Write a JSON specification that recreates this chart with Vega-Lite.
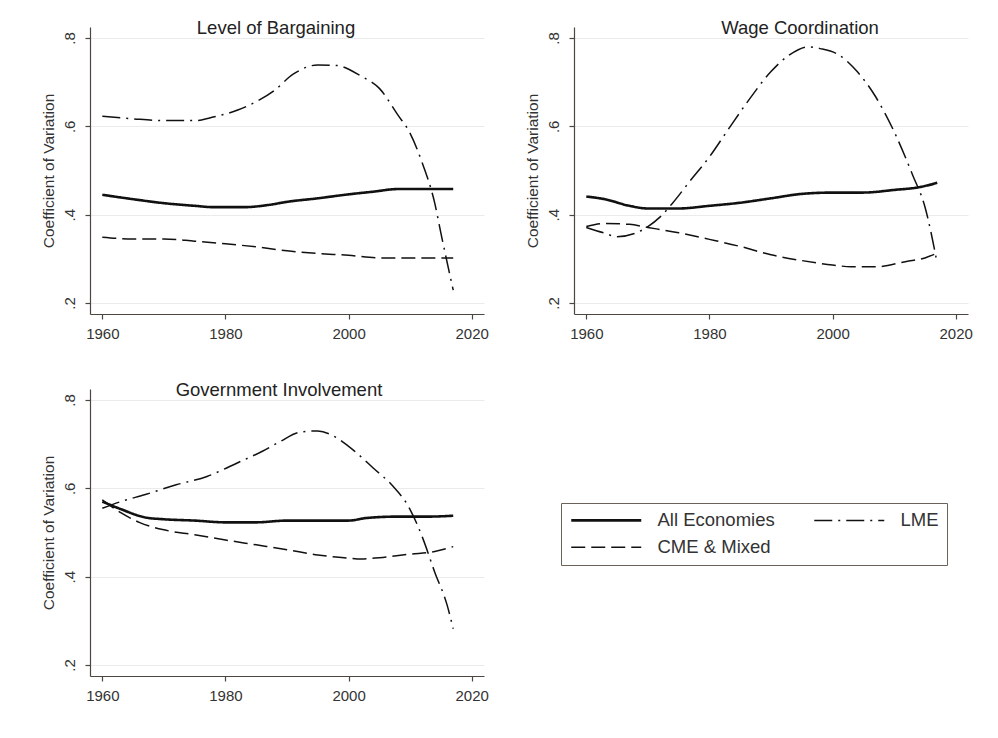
{
  "$schema": "https://vega.github.io/schema/vega-lite/v6.json",
  "background": "white",
  "padding": {"left": 41, "top": 18, "right": 5, "bottom": 5},
  "data": {"values": [
    {"panel": "Level of Bargaining", "series": "All Economies", "year": 1960, "cv": 0.445},
    {"panel": "Level of Bargaining", "series": "All Economies", "year": 1965, "cv": 0.435},
    {"panel": "Level of Bargaining", "series": "All Economies", "year": 1970, "cv": 0.426},
    {"panel": "Level of Bargaining", "series": "All Economies", "year": 1975, "cv": 0.42},
    {"panel": "Level of Bargaining", "series": "All Economies", "year": 1978, "cv": 0.417},
    {"panel": "Level of Bargaining", "series": "All Economies", "year": 1983, "cv": 0.417},
    {"panel": "Level of Bargaining", "series": "All Economies", "year": 1987, "cv": 0.422},
    {"panel": "Level of Bargaining", "series": "All Economies", "year": 1990, "cv": 0.429},
    {"panel": "Level of Bargaining", "series": "All Economies", "year": 1995, "cv": 0.437},
    {"panel": "Level of Bargaining", "series": "All Economies", "year": 2000, "cv": 0.446},
    {"panel": "Level of Bargaining", "series": "All Economies", "year": 2004, "cv": 0.452},
    {"panel": "Level of Bargaining", "series": "All Economies", "year": 2008, "cv": 0.458},
    {"panel": "Level of Bargaining", "series": "All Economies", "year": 2012, "cv": 0.458},
    {"panel": "Level of Bargaining", "series": "All Economies", "year": 2017, "cv": 0.458},
    {"panel": "Level of Bargaining", "series": "CME & Mixed", "year": 1960, "cv": 0.349},
    {"panel": "Level of Bargaining", "series": "CME & Mixed", "year": 1965, "cv": 0.345},
    {"panel": "Level of Bargaining", "series": "CME & Mixed", "year": 1970, "cv": 0.345},
    {"panel": "Level of Bargaining", "series": "CME & Mixed", "year": 1975, "cv": 0.34},
    {"panel": "Level of Bargaining", "series": "CME & Mixed", "year": 1980, "cv": 0.334},
    {"panel": "Level of Bargaining", "series": "CME & Mixed", "year": 1985, "cv": 0.327},
    {"panel": "Level of Bargaining", "series": "CME & Mixed", "year": 1990, "cv": 0.318},
    {"panel": "Level of Bargaining", "series": "CME & Mixed", "year": 1995, "cv": 0.312},
    {"panel": "Level of Bargaining", "series": "CME & Mixed", "year": 2000, "cv": 0.308},
    {"panel": "Level of Bargaining", "series": "CME & Mixed", "year": 2005, "cv": 0.302},
    {"panel": "Level of Bargaining", "series": "CME & Mixed", "year": 2010, "cv": 0.302},
    {"panel": "Level of Bargaining", "series": "CME & Mixed", "year": 2017, "cv": 0.302},
    {"panel": "Level of Bargaining", "series": "LME", "year": 1960, "cv": 0.623},
    {"panel": "Level of Bargaining", "series": "LME", "year": 1965, "cv": 0.617},
    {"panel": "Level of Bargaining", "series": "LME", "year": 1970, "cv": 0.613},
    {"panel": "Level of Bargaining", "series": "LME", "year": 1975, "cv": 0.613},
    {"panel": "Level of Bargaining", "series": "LME", "year": 1978, "cv": 0.621},
    {"panel": "Level of Bargaining", "series": "LME", "year": 1982, "cv": 0.637},
    {"panel": "Level of Bargaining", "series": "LME", "year": 1985, "cv": 0.656},
    {"panel": "Level of Bargaining", "series": "LME", "year": 1988, "cv": 0.682},
    {"panel": "Level of Bargaining", "series": "LME", "year": 1991, "cv": 0.718},
    {"panel": "Level of Bargaining", "series": "LME", "year": 1995, "cv": 0.739},
    {"panel": "Level of Bargaining", "series": "LME", "year": 1998, "cv": 0.738},
    {"panel": "Level of Bargaining", "series": "LME", "year": 2002, "cv": 0.714},
    {"panel": "Level of Bargaining", "series": "LME", "year": 2005, "cv": 0.686},
    {"panel": "Level of Bargaining", "series": "LME", "year": 2008, "cv": 0.626},
    {"panel": "Level of Bargaining", "series": "LME", "year": 2010, "cv": 0.584},
    {"panel": "Level of Bargaining", "series": "LME", "year": 2012, "cv": 0.516},
    {"panel": "Level of Bargaining", "series": "LME", "year": 2014, "cv": 0.426},
    {"panel": "Level of Bargaining", "series": "LME", "year": 2015, "cv": 0.358},
    {"panel": "Level of Bargaining", "series": "LME", "year": 2017, "cv": 0.229},

    {"panel": "Wage Coordination", "series": "All Economies", "year": 1960, "cv": 0.441},
    {"panel": "Wage Coordination", "series": "All Economies", "year": 1963, "cv": 0.435},
    {"panel": "Wage Coordination", "series": "All Economies", "year": 1967, "cv": 0.42},
    {"panel": "Wage Coordination", "series": "All Economies", "year": 1970, "cv": 0.414},
    {"panel": "Wage Coordination", "series": "All Economies", "year": 1975, "cv": 0.414},
    {"panel": "Wage Coordination", "series": "All Economies", "year": 1980, "cv": 0.42},
    {"panel": "Wage Coordination", "series": "All Economies", "year": 1985, "cv": 0.427},
    {"panel": "Wage Coordination", "series": "All Economies", "year": 1990, "cv": 0.437},
    {"panel": "Wage Coordination", "series": "All Economies", "year": 1995, "cv": 0.447},
    {"panel": "Wage Coordination", "series": "All Economies", "year": 2000, "cv": 0.45},
    {"panel": "Wage Coordination", "series": "All Economies", "year": 2005, "cv": 0.45},
    {"panel": "Wage Coordination", "series": "All Economies", "year": 2010, "cv": 0.456},
    {"panel": "Wage Coordination", "series": "All Economies", "year": 2014, "cv": 0.462},
    {"panel": "Wage Coordination", "series": "All Economies", "year": 2017, "cv": 0.472},
    {"panel": "Wage Coordination", "series": "CME & Mixed", "year": 1960, "cv": 0.373},
    {"panel": "Wage Coordination", "series": "CME & Mixed", "year": 1963, "cv": 0.38},
    {"panel": "Wage Coordination", "series": "CME & Mixed", "year": 1967, "cv": 0.378},
    {"panel": "Wage Coordination", "series": "CME & Mixed", "year": 1970, "cv": 0.371},
    {"panel": "Wage Coordination", "series": "CME & Mixed", "year": 1975, "cv": 0.359},
    {"panel": "Wage Coordination", "series": "CME & Mixed", "year": 1980, "cv": 0.344},
    {"panel": "Wage Coordination", "series": "CME & Mixed", "year": 1985, "cv": 0.328},
    {"panel": "Wage Coordination", "series": "CME & Mixed", "year": 1990, "cv": 0.309},
    {"panel": "Wage Coordination", "series": "CME & Mixed", "year": 1995, "cv": 0.296},
    {"panel": "Wage Coordination", "series": "CME & Mixed", "year": 2000, "cv": 0.286},
    {"panel": "Wage Coordination", "series": "CME & Mixed", "year": 2003, "cv": 0.282},
    {"panel": "Wage Coordination", "series": "CME & Mixed", "year": 2007, "cv": 0.282},
    {"panel": "Wage Coordination", "series": "CME & Mixed", "year": 2012, "cv": 0.294},
    {"panel": "Wage Coordination", "series": "CME & Mixed", "year": 2015, "cv": 0.302},
    {"panel": "Wage Coordination", "series": "CME & Mixed", "year": 2017, "cv": 0.313},
    {"panel": "Wage Coordination", "series": "LME", "year": 1960, "cv": 0.371},
    {"panel": "Wage Coordination", "series": "LME", "year": 1963, "cv": 0.358},
    {"panel": "Wage Coordination", "series": "LME", "year": 1965, "cv": 0.35},
    {"panel": "Wage Coordination", "series": "LME", "year": 1968, "cv": 0.358},
    {"panel": "Wage Coordination", "series": "LME", "year": 1970, "cv": 0.373},
    {"panel": "Wage Coordination", "series": "LME", "year": 1972, "cv": 0.395},
    {"panel": "Wage Coordination", "series": "LME", "year": 1974, "cv": 0.426},
    {"panel": "Wage Coordination", "series": "LME", "year": 1977, "cv": 0.479},
    {"panel": "Wage Coordination", "series": "LME", "year": 1980, "cv": 0.531},
    {"panel": "Wage Coordination", "series": "LME", "year": 1983, "cv": 0.592},
    {"panel": "Wage Coordination", "series": "LME", "year": 1986, "cv": 0.652},
    {"panel": "Wage Coordination", "series": "LME", "year": 1990, "cv": 0.724},
    {"panel": "Wage Coordination", "series": "LME", "year": 1993, "cv": 0.762},
    {"panel": "Wage Coordination", "series": "LME", "year": 1996, "cv": 0.78},
    {"panel": "Wage Coordination", "series": "LME", "year": 1998, "cv": 0.776},
    {"panel": "Wage Coordination", "series": "LME", "year": 2001, "cv": 0.762},
    {"panel": "Wage Coordination", "series": "LME", "year": 2004, "cv": 0.724},
    {"panel": "Wage Coordination", "series": "LME", "year": 2007, "cv": 0.667},
    {"panel": "Wage Coordination", "series": "LME", "year": 2010, "cv": 0.588},
    {"panel": "Wage Coordination", "series": "LME", "year": 2013, "cv": 0.49},
    {"panel": "Wage Coordination", "series": "LME", "year": 2015, "cv": 0.418},
    {"panel": "Wage Coordination", "series": "LME", "year": 2017, "cv": 0.29},

    {"panel": "Government Involvement", "series": "All Economies", "year": 1960, "cv": 0.57},
    {"panel": "Government Involvement", "series": "All Economies", "year": 1963, "cv": 0.553},
    {"panel": "Government Involvement", "series": "All Economies", "year": 1967, "cv": 0.534},
    {"panel": "Government Involvement", "series": "All Economies", "year": 1970, "cv": 0.53},
    {"panel": "Government Involvement", "series": "All Economies", "year": 1975, "cv": 0.527},
    {"panel": "Government Involvement", "series": "All Economies", "year": 1980, "cv": 0.523},
    {"panel": "Government Involvement", "series": "All Economies", "year": 1985, "cv": 0.523},
    {"panel": "Government Involvement", "series": "All Economies", "year": 1990, "cv": 0.527},
    {"panel": "Government Involvement", "series": "All Economies", "year": 2000, "cv": 0.527},
    {"panel": "Government Involvement", "series": "All Economies", "year": 2003, "cv": 0.533},
    {"panel": "Government Involvement", "series": "All Economies", "year": 2008, "cv": 0.536},
    {"panel": "Government Involvement", "series": "All Economies", "year": 2013, "cv": 0.536},
    {"panel": "Government Involvement", "series": "All Economies", "year": 2017, "cv": 0.538},
    {"panel": "Government Involvement", "series": "CME & Mixed", "year": 1960, "cv": 0.574},
    {"panel": "Government Involvement", "series": "CME & Mixed", "year": 1963, "cv": 0.545},
    {"panel": "Government Involvement", "series": "CME & Mixed", "year": 1966, "cv": 0.523},
    {"panel": "Government Involvement", "series": "CME & Mixed", "year": 1970, "cv": 0.506},
    {"panel": "Government Involvement", "series": "CME & Mixed", "year": 1975, "cv": 0.495},
    {"panel": "Government Involvement", "series": "CME & Mixed", "year": 1980, "cv": 0.483},
    {"panel": "Government Involvement", "series": "CME & Mixed", "year": 1985, "cv": 0.472},
    {"panel": "Government Involvement", "series": "CME & Mixed", "year": 1990, "cv": 0.461},
    {"panel": "Government Involvement", "series": "CME & Mixed", "year": 1995, "cv": 0.449},
    {"panel": "Government Involvement", "series": "CME & Mixed", "year": 2000, "cv": 0.442},
    {"panel": "Government Involvement", "series": "CME & Mixed", "year": 2002, "cv": 0.44},
    {"panel": "Government Involvement", "series": "CME & Mixed", "year": 2005, "cv": 0.443},
    {"panel": "Government Involvement", "series": "CME & Mixed", "year": 2010, "cv": 0.451},
    {"panel": "Government Involvement", "series": "CME & Mixed", "year": 2014, "cv": 0.457},
    {"panel": "Government Involvement", "series": "CME & Mixed", "year": 2017, "cv": 0.468},
    {"panel": "Government Involvement", "series": "LME", "year": 1960, "cv": 0.555},
    {"panel": "Government Involvement", "series": "LME", "year": 1963, "cv": 0.57},
    {"panel": "Government Involvement", "series": "LME", "year": 1967, "cv": 0.586},
    {"panel": "Government Involvement", "series": "LME", "year": 1972, "cv": 0.608},
    {"panel": "Government Involvement", "series": "LME", "year": 1977, "cv": 0.627},
    {"panel": "Government Involvement", "series": "LME", "year": 1982, "cv": 0.658},
    {"panel": "Government Involvement", "series": "LME", "year": 1986, "cv": 0.684},
    {"panel": "Government Involvement", "series": "LME", "year": 1989, "cv": 0.707},
    {"panel": "Government Involvement", "series": "LME", "year": 1992, "cv": 0.727},
    {"panel": "Government Involvement", "series": "LME", "year": 1995, "cv": 0.73},
    {"panel": "Government Involvement", "series": "LME", "year": 1998, "cv": 0.715},
    {"panel": "Government Involvement", "series": "LME", "year": 2001, "cv": 0.684},
    {"panel": "Government Involvement", "series": "LME", "year": 2004, "cv": 0.646},
    {"panel": "Government Involvement", "series": "LME", "year": 2007, "cv": 0.608},
    {"panel": "Government Involvement", "series": "LME", "year": 2010, "cv": 0.552},
    {"panel": "Government Involvement", "series": "LME", "year": 2012, "cv": 0.489},
    {"panel": "Government Involvement", "series": "LME", "year": 2014, "cv": 0.41},
    {"panel": "Government Involvement", "series": "LME", "year": 2016, "cv": 0.336},
    {"panel": "Government Involvement", "series": "LME", "year": 2017, "cv": 0.282}
  ]},
  "columns": 2,
  "spacing": {"row": 75, "column": 90},
  "bounds": "flush",
  "resolve": {"scale": {"strokeDash": "independent"}, "legend": {"strokeDash": "independent"}},
  "concat": [
    {
      "title": {"text": "Level of Bargaining", "dx": -11},
      "width": 394, "height": 287,
      "transform": [{"filter": "datum.panel === 'Level of Bargaining'"}],
      "mark": {"type": "line", "interpolate": "monotone", "color": "#111"},
      "encoding": {
        "x": {"field": "year", "type": "quantitative", "scale": {"domain": [1958, 2022], "nice": false, "zero": false}, "axis": {"values": [1960, 1980, 2000, 2020], "format": "d", "title": null}},
        "y": {"field": "cv", "type": "quantitative", "scale": {"domain": [0.175, 0.825], "nice": false, "zero": false}, "axis": {"values": [0.2, 0.4, 0.6, 0.8], "title": "Coefficient of Variation", "labelExpr": "replace(format(datum.value, '.1f'), '0.', '.')"}},
        "strokeDash": {"field": "series", "type": "nominal", "sort": ["All Economies", "CME & Mixed", "LME"], "scale": {"domain": ["All Economies", "CME & Mixed", "LME"], "range": [[1, 0], [14, 6], [18, 6, 2, 6]]}, "legend": {"title": null, "encode": {"symbols": {"update": {"strokeWidth": {"signal": "datum.value === 'All Economies' ? 2.6 : 1.5"}}}}}},
        "strokeWidth": {"condition": {"test": "datum.series === 'All Economies'", "value": 2.6}, "value": 1.5}
      }
    },
    {
      "title": {"text": "Wage Coordination", "dx": 29},
      "width": 394, "height": 287,
      "transform": [{"filter": "datum.panel === 'Wage Coordination'"}],
      "mark": {"type": "line", "interpolate": "monotone", "color": "#111"},
      "encoding": {
        "x": {"field": "year", "type": "quantitative", "scale": {"domain": [1958, 2022], "nice": false, "zero": false}, "axis": {"values": [1960, 1980, 2000, 2020], "format": "d", "title": null}},
        "y": {"field": "cv", "type": "quantitative", "scale": {"domain": [0.175, 0.825], "nice": false, "zero": false}, "axis": {"values": [0.2, 0.4, 0.6, 0.8], "title": "Coefficient of Variation", "labelExpr": "replace(format(datum.value, '.1f'), '0.', '.')"}},
        "strokeDash": {"field": "series", "type": "nominal", "sort": ["All Economies", "CME & Mixed", "LME"], "scale": {"domain": ["All Economies", "CME & Mixed", "LME"], "range": [[1, 0], [14, 6], [18, 6, 2, 6]]}, "legend": null},
        "strokeWidth": {"condition": {"test": "datum.series === 'All Economies'", "value": 2.6}, "value": 1.5}
      }
    },
    {
      "title": {"text": "Government Involvement", "dx": -8},
      "width": 394, "height": 287,
      "transform": [{"filter": "datum.panel === 'Government Involvement'"}],
      "mark": {"type": "line", "interpolate": "monotone", "color": "#111"},
      "encoding": {
        "x": {"field": "year", "type": "quantitative", "scale": {"domain": [1958, 2022], "nice": false, "zero": false}, "axis": {"values": [1960, 1980, 2000, 2020], "format": "d", "title": null}},
        "y": {"field": "cv", "type": "quantitative", "scale": {"domain": [0.175, 0.825], "nice": false, "zero": false}, "axis": {"values": [0.2, 0.4, 0.6, 0.8], "title": "Coefficient of Variation", "labelExpr": "replace(format(datum.value, '.1f'), '0.', '.')"}},
        "strokeDash": {"field": "series", "type": "nominal", "sort": ["All Economies", "CME & Mixed", "LME"], "scale": {"domain": ["All Economies", "CME & Mixed", "LME"], "range": [[1, 0], [14, 6], [18, 6, 2, 6]]}, "legend": null},
        "strokeWidth": {"condition": {"test": "datum.series === 'All Economies'", "value": 2.6}, "value": 1.5}
      }
    }
  ],
  "config": {
    "font": "Liberation Sans",
    "view": {"stroke": null},
    "axis": {
      "domainColor": "#4d4540", "tickColor": "#4d4540", "domainWidth": 1.2, "tickWidth": 1.2,
      "labelColor": "#333", "titleColor": "#333", "labelFont": "Liberation Sans", "titleFont": "Liberation Sans",
      "labelFontSize": 15, "titleFontSize": 15.5, "titleFontWeight": "normal",
      "gridColor": "#ebebeb", "tickSize": 5
    },
    "axisY": {"labelAngle": -90, "labelAlign": "center", "labelBaseline": "bottom", "labelPadding": 8, "titlePadding": 6, "grid": true},
    "axisX": {"labelPadding": 7, "grid": false},
    "title": {"fontSize": 18.5, "fontWeight": "normal", "color": "#222", "anchor": "middle", "frame": "group", "baseline": "middle", "offset": -10, "font": "Liberation Sans"},
    "legend": {
      "orient": "none", "legendX": 471, "legendY": 476,
      "columns": 2, "columnPadding": 36, "rowPadding": 8,
      "symbolType": "M-1,0L9,0", "symbolSize": 196, "symbolStrokeColor": "#111", "symbolStrokeWidth": 1.5, "symbolFillColor": "transparent",
      "labelFontSize": 18.5, "labelColor": "#333", "labelOffset": 70, "labelFont": "Liberation Sans",
      "strokeColor": "#6b625c", "padding": 8,
      "labelLimit": 300
    }
  }
}
